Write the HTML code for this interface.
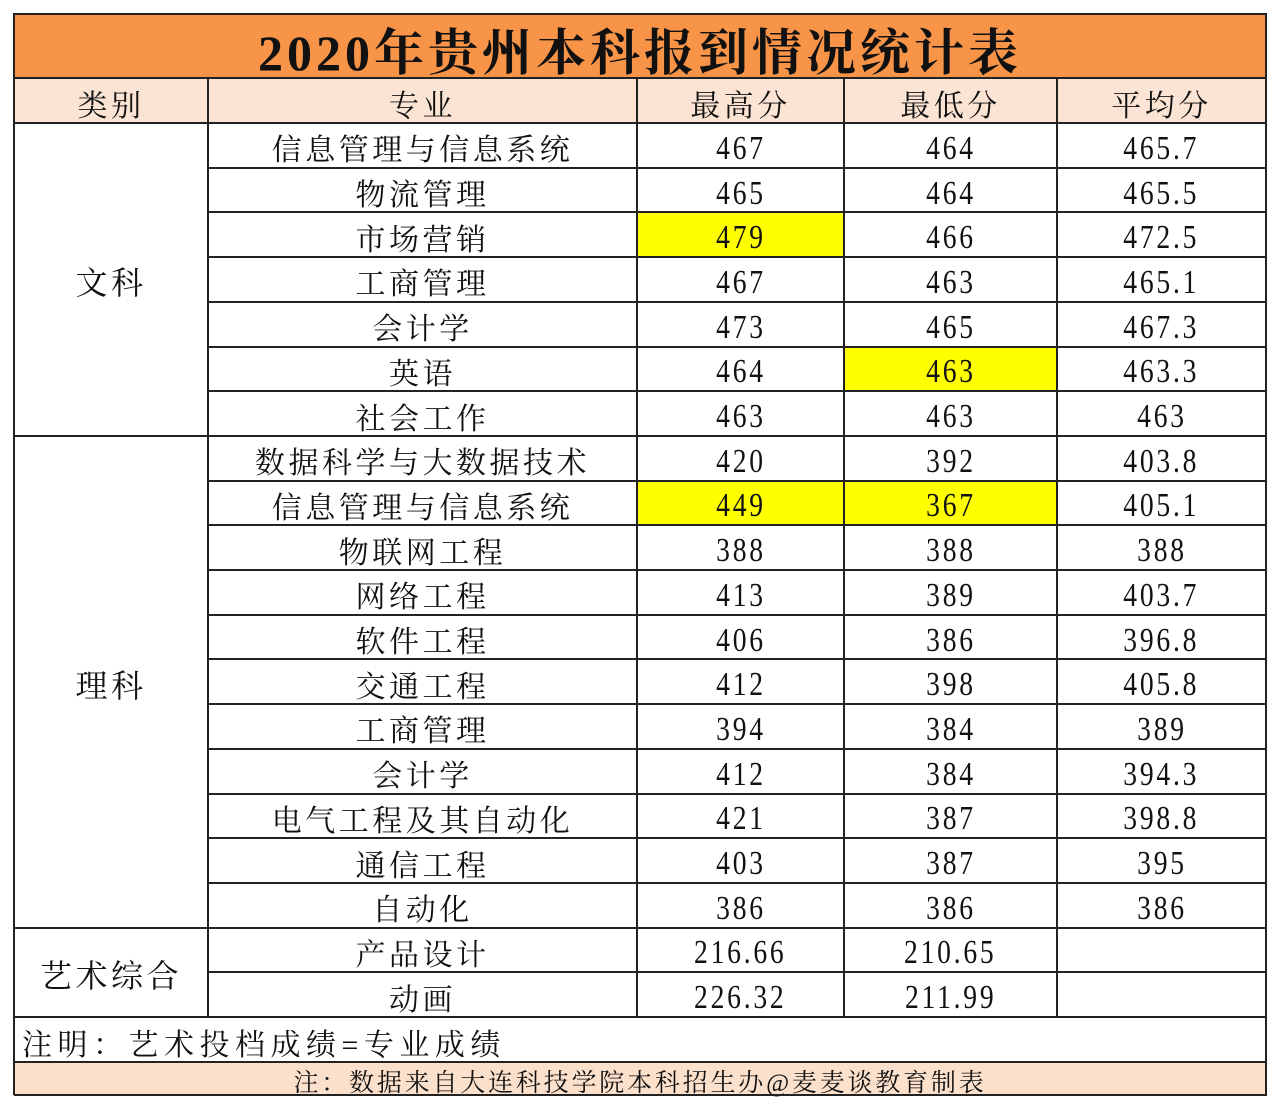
<!DOCTYPE html>
<html><head><meta charset="utf-8">
<style>
html,body{margin:0;padding:0;background:#fff;width:1280px;height:1110px;overflow:hidden}
#t{position:absolute;left:0;top:0;width:1280px;height:1110px}
.c{position:absolute;box-sizing:border-box;display:flex;align-items:center;justify-content:center;
font-family:"Liberation Serif","Noto Serif CJK SC",serif;font-size:30px;color:#111;letter-spacing:3.5px;white-space:nowrap}
.n{padding-top:7px}
.n span{display:inline-block;transform:scale(0.92,1.12)}
.ln{position:absolute;background:#222}
</style></head><body>
<div id="t"></div>
<script>
const cols=[14,208,637,844,1057,1266];
const headers=["类别","专业","最高分","最低分","平均分"];
const majors=["信息管理与信息系统","物流管理","市场营销","工商管理","会计学","英语","社会工作","数据科学与大数据技术","信息管理与信息系统","物联网工程","网络工程","软件工程","交通工程","工商管理","会计学","电气工程及其自动化","通信工程","自动化","产品设计","动画"];
const maxScores=["467","465","479","467","473","464","463","420","449","388","413","406","412","394","412","421","403","386","216.66","226.32"];
const minScores=["464","464","466","463","465","463","463","392","367","388","389","386","398","384","384","387","387","386","210.65","211.99"];
const avgScores=["465.7","465.5","472.5","465.1","467.3","463.3","463","403.8","405.1","388","403.7","396.8","405.8","389","394.3","398.8","395","386","",""];
const groups=[["文科",0,7],["理科",7,18],["艺术综合",18,20]];
const hlMax=[2,8], hlMin=[5,8];
const T=document.getElementById('t');
function cell(x,y,w,h,txt,name,bg,extra,num){
  const d=document.createElement('div');d.className='c'+(num?' n':'');
  d.style.left=x+'px';d.style.top=y+'px';d.style.width=w+'px';d.style.height=h+'px';
  if(bg)d.style.background=bg;
  if(extra)Object.assign(d.style,extra);
  if(num){const s=document.createElement('span');s.textContent=txt;d.appendChild(s);}
  else d.textContent=txt;
  
  
  T.appendChild(d);return d;
}
function line(x,y,w,h){const d=document.createElement('div');d.className='ln';
d.style.left=x+'px';d.style.top=y+'px';d.style.width=w+'px';d.style.height=h+'px';T.appendChild(d);}
const L=cols[0],R=cols[5],W=R-L;
const titleTop=14,headTop=78,dataTop=123,rowH=44.7;
cell(L,titleTop,W,headTop-titleTop,"2020年贵州本科报到情况统计表","title","#f89448",{fontSize:"50px",fontWeight:"bold",letterSpacing:"4px",paddingTop:"6px"});
for(let i=0;i<5;i++){
  cell(cols[i],headTop,cols[i+1]-cols[i],dataTop-headTop,headers[i],"header-"+i,"#fbe4d3",{paddingTop:"4px"});
}
const rows=majors.length;
for(let r=0;r<rows;r++){
  const y=dataTop+r*rowH;
  cell(cols[1],y,cols[2]-cols[1],rowH,majors[r],"major-name",null,{paddingTop:"4px"});
  cell(cols[2],y,cols[3]-cols[2],rowH,maxScores[r],"max-score",hlMax.includes(r)?"#ffff00":null,{letterSpacing:"3px"},true);
  cell(cols[3],y,cols[4]-cols[3],rowH,minScores[r],"min-score",hlMin.includes(r)?"#ffff00":null,{letterSpacing:"3px"},true);
  cell(cols[4],y,cols[5]-cols[4],rowH,avgScores[r],"avg-score",null,{letterSpacing:"3px"},true);
}
groups.forEach(g=>{
  const y0=dataTop+g[1]*rowH,y1=dataTop+g[2]*rowH;
  cell(cols[0],y0,cols[1]-cols[0],y1-y0,g[0],"category-label",null,{fontSize:"32px",paddingTop:"4px"});
});
const noteTop=dataTop+rows*rowH, footTop=noteTop+45, bottom=1095;
cell(L,noteTop,W,footTop-noteTop,"注明：艺术投档成绩=专业成绩","note",null,{justifyContent:"flex-start",paddingLeft:"8px",fontSize:"30px",letterSpacing:"5.5px",paddingTop:"4px"});
cell(L,footTop,W,bottom-footTop,"注：数据来自大连科技学院本科招生办@麦麦谈教育制表","source-footer","#fbe0cc",{fontSize:"25px",letterSpacing:"2.8px",paddingTop:"4px"});
const th=2;
[titleTop,headTop,dataTop,noteTop,footTop,bottom].forEach(y=>line(L,y-1,W+1,th));
for(let r=1;r<rows;r++){
  const y=dataTop+r*rowH;
  const isGroup=groups.some(g=>g[1]===r);
  line(isGroup?L:cols[1],y-1,isGroup?W:R-cols[1],th);
}
line(L-1,titleTop-1,th,bottom-titleTop+1);line(R-1,titleTop-1,th,bottom-titleTop+1);
for(let i=1;i<5;i++)line(cols[i]-1,headTop,th,noteTop-headTop);
</script>
</body></html>
